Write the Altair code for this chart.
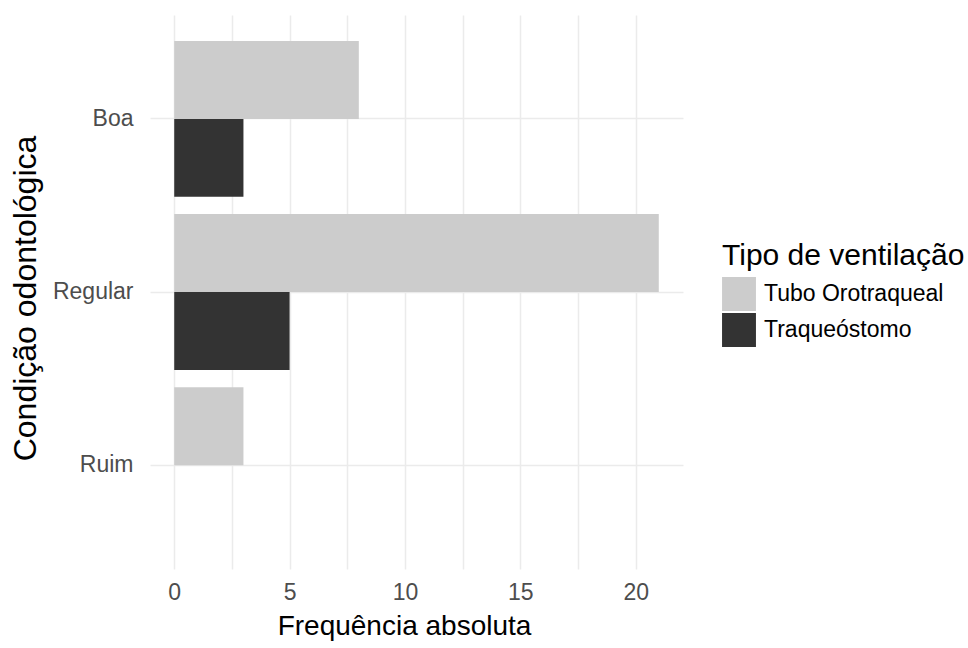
import altair as alt
import pandas as pd

categorias = ["Boa", "Regular", "Ruim"]
tipos = ["Tubo Orotraqueal", "Traqueóstomo"]
tubo_orotraqueal = [8, 21, 3]
traqueostomo = [3, 5, 0]
cores = ["#CCCCCC", "#333333"]
x_ticks = [0, 2.5, 5, 7.5, 10, 12.5, 15, 17.5, 20]

rows = []
for c, v in zip(categorias, tubo_orotraqueal):
    rows.append({"cond": c, "tipo": tipos[0], "n": v})
for c, v in zip(categorias, traqueostomo):
    rows.append({"cond": c, "tipo": tipos[1], "n": v})
df = pd.DataFrame(rows)

FONT = "Liberation Sans"

chart = alt.Chart(df).mark_bar(stroke=None).encode(
    y=alt.Y("cond:N", sort=categorias,
            scale=alt.Scale(paddingInner=0.1, paddingOuter=0.15),
            axis=alt.Axis(title="Condição odontológica", bandPosition=0.5,
                          grid=True, gridColor="#EBEBEB", gridWidth=1.5,
                          ticks=False, domain=False, labelPadding=17,
                          labelFontSize=23, labelColor="#4D4D4D", labelFont=FONT,
                          titleFontSize=32, titleFont=FONT, titleFontWeight="normal",
                          titleColor="black", titlePadding=10, titleY=283)),
    yOffset=alt.YOffset("tipo:N", sort=tipos,
                        scale=alt.Scale(domain=tipos, paddingInner=0, paddingOuter=0)),
    x=alt.X("n:Q", stack=None,
            scale=alt.Scale(domain=[-1.05, 22.05], nice=False, zero=False),
            axis=alt.Axis(title="Frequência absoluta", values=x_ticks,
                          labelExpr="datum.value % 5 === 0 ? datum.label : ''",
                          grid=True, gridColor="#EBEBEB", gridWidth=1.5,
                          ticks=False, domain=False, labelPadding=12,
                          labelFontSize=23, labelColor="#4D4D4D", labelFont=FONT,
                          titleFontSize=28, titleFont=FONT, titleFontWeight="normal",
                          titleColor="black", titlePadding=8, titleX=254)),
    color=alt.Color("tipo:N", sort=tipos,
                    scale=alt.Scale(domain=tipos, range=cores),
                    legend=alt.Legend(title="Tipo de ventilação", orient="none",
                                      legendX=572, legendY=226,
                                      symbolType="square", symbolSize=1150,
                                      symbolStrokeWidth=0, rowPadding=2,
                                      labelFontSize=23, labelFont=FONT, labelColor="black",
                                      titleFontSize=30, titleFont=FONT,
                                      titleFontWeight="normal", titleColor="black",
                                      titlePadding=6, labelOffset=8,
                                      labelLimit=0, titleLimit=0)),
).properties(
    width=533, height=554,
    padding={"left": 150, "top": 15, "right": 285, "bottom": 79},
    autosize="none",
    background="white",
).configure_view(stroke=None)

chart.save("out.html", embed_options={"renderer": "svg", "actions": False})
